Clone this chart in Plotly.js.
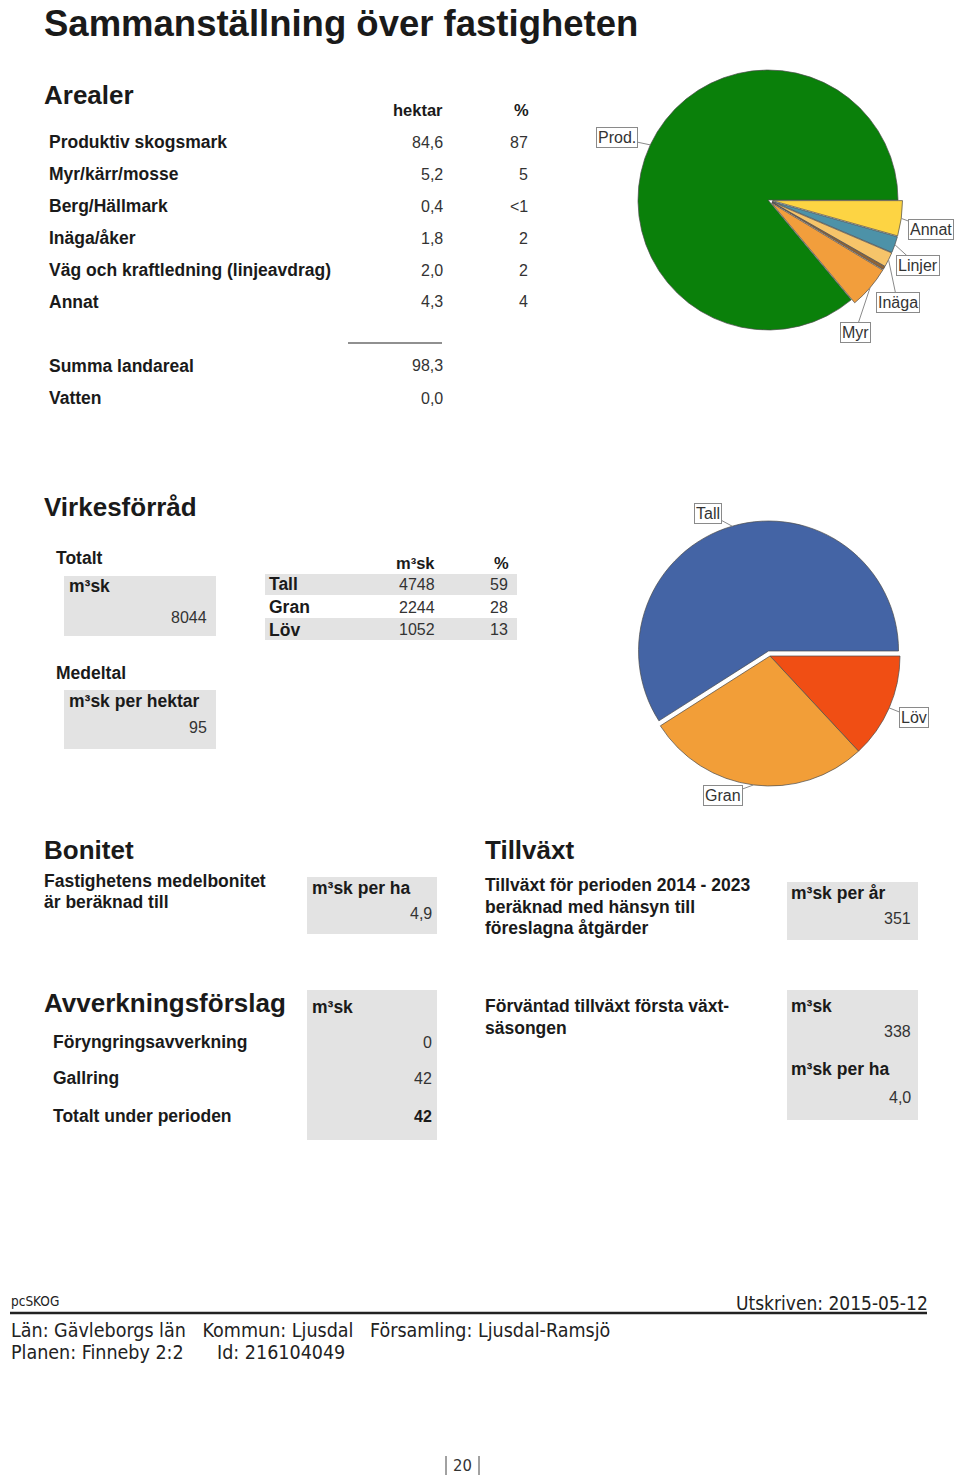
<!DOCTYPE html>
<html>
<head>
<meta charset="utf-8">
<script src="https://cdn.plot.ly/plotly-3.0.1.min.js"></script>
<style>
  html, body { margin: 0; padding: 0; background: #ffffff; }
  #page { width: 960px; height: 1478px; }
</style>
</head>
<body>
<div id="page"></div>
<script>
// ---------------- DATA ----------------
var arealCategories = ['Produktiv skogsmark', 'Myr/kärr/mosse', 'Berg/Hällmark', 'Inäga/åker', 'Väg och kraftledning (linjeavdrag)', 'Annat'];
var arealPieLabels  = ['Prod.', 'Myr', '', 'Inäga', 'Linjer', 'Annat'];
var arealHektar     = [84.6, 5.2, 0.4, 1.8, 2.0, 4.3];
var arealPercent    = ['87', '5', '<1', '2', '2', '4'];
var summaLandareal  = 98.3;
var vattenHektar    = 0.0;

var virkesCategories = ['Tall', 'Gran', 'Löv'];
var virkesM3sk       = [4748, 2244, 1052];
var virkesPercent    = [59, 28, 13];
var virkesTotalt     = 8044;
var virkesPerHektar  = 95;

var bonitetPerHa     = 4.9;
var tillvaxtPerAr    = 351;
var tillvaxtPeriod   = ['2014', '2023'];

var avverkCategories = ['Föryngringsavverkning', 'Gallring', 'Totalt under perioden'];
var avverkM3sk       = [0, 42, 42];

var forvantadM3sk    = 338;
var forvantadPerHa   = 4.0;

var footerProgram  = 'pcSKOG';
var footerDate     = '2015-05-12';
var footerLan      = 'Gävleborgs län';
var footerKommun   = 'Ljusdal';
var footerForsaml  = 'Ljusdal-Ramsjö';
var footerPlan     = 'Finneby 2:2';
var footerId       = '216104049';
var pageNumber     = '20';

// ---------------- HELPERS ----------------
var W = 960, H = 1478;
var FONT = 'Liberation Sans, Arial, Helvetica, sans-serif';
var NARROW = 'Liberation Sans Narrow, DejaVu Sans Condensed, Liberation Sans, sans-serif';
function px(x) { return x / W; }
function py(y) { return 1 - y / H; }
function dec(v) { return v.toFixed(1).replace('.', ','); }

var annotations = [];
var shapes = [];

function txt(x, y, text, size, opts) {
  opts = opts || {};
  var anchor = opts.anchor || 'left';
  var dx = anchor === 'left' ? -2 : (anchor === 'right' ? 2 : 0);
  annotations.push({
    xref: 'paper', yref: 'paper', x: px(x + dx), y: py(y),
    text: opts.bold ? '<b>' + text + '</b>' : text,
    showarrow: false,
    xanchor: anchor, yanchor: 'middle',
    borderpad: 0,
    font: { family: opts.family || FONT, size: size, color: opts.color || '#1a1a1a' }
  });
}
function box(x0, y0, x1, y1, color) {
  shapes.push({ type: 'rect', xref: 'paper', yref: 'paper', layer: 'below',
    x0: px(x0), x1: px(x1), y0: py(y1), y1: py(y0),
    fillcolor: color || '#e3e3e3', line: { width: 0 } });
}
function hline(x0, x1, y, w, color) {
  shapes.push({ type: 'line', xref: 'paper', yref: 'paper',
    x0: px(x0), x1: px(x1), y0: py(y), y1: py(y),
    line: { color: color || '#222', width: w } });
}
function vline(x, y0, y1, w, color) {
  shapes.push({ type: 'line', xref: 'paper', yref: 'paper',
    x0: px(x), x1: px(x), y0: py(y0), y1: py(y1),
    line: { color: color || '#444', width: w } });
}

// pie geometry (page pixels)
function pieDomain(cx, cy, r, maxPull) {
  var half = r * (1 + maxPull);
  return { x: [px(cx - half), px(cx + half)], y: [py(cy + half), py(cy - half)] };
}
// leader labels for a clockwise pie starting at 3 o'clock (rotation 90)
function pieLabels(vals, labels, pulls, cx, cy, r, offsets) {
  var total = vals.reduce(function (a, b) { return a + b; }, 0);
  var ang = 90;
  for (var i = 0; i < vals.length; i++) {
    var span = vals[i] / total * 360;
    var mid = (ang + span / 2) * Math.PI / 180;
    ang += span;
    if (!labels[i]) continue;
    var R = r * (1 + pulls[i]);
    var tx = cx + R * Math.sin(mid), ty = cy - R * Math.cos(mid);
    var off = offsets[labels[i]];
    annotations.push({
      xref: 'paper', yref: 'paper', x: px(tx), y: py(ty),
      ax: off[0], ay: off[1],
      text: labels[i], showarrow: true, arrowhead: 0, arrowwidth: 1,
      arrowcolor: '#8a8a8a', standoff: 0, startstandoff: 0,
      bgcolor: '#ffffff', bordercolor: '#8a8a8a', borderwidth: 1, borderpad: 1,
      font: { family: FONT, size: 16, color: '#333' }
    });
  }
}

// ---------------- PAGE TEXT ----------------
var BODY = 17.5;
txt(45, 23, 'Sammanställning över fastigheten', 36.5, { bold: true });

// Arealer
txt(45, 95, 'Arealer', 26, { bold: true });
txt(442, 110, 'hektar', 16.5, { bold: true, anchor: 'right' });
txt(528, 110, '%', 16.5, { bold: true, anchor: 'right' });
var arealRowY = [142, 174, 206, 238, 270, 302];
for (var i = 0; i < arealCategories.length; i++) {
  txt(50, arealRowY[i], arealCategories[i], BODY, { bold: true });
  txt(442, arealRowY[i], dec(arealHektar[i]), 16, { anchor: 'right', color: '#333' });
  txt(527, arealRowY[i], arealPercent[i], 16, { anchor: 'right', color: '#333' });
}
hline(348, 442, 343, 1.2, '#222');
txt(50, 366, 'Summa landareal', BODY, { bold: true });
txt(442, 366, dec(summaLandareal), 16, { anchor: 'right', color: '#333' });
txt(50, 398, 'Vatten', BODY, { bold: true });
txt(442, 398, dec(vattenHektar), 16, { anchor: 'right', color: '#333' });

// Virkesförråd
txt(45, 507, 'Virkesförråd', 26, { bold: true });
txt(57, 558, 'Totalt', BODY, { bold: true });
box(64, 576, 216, 636);
txt(70, 586, 'm³sk', BODY, { bold: true });
txt(206, 617, String(virkesTotalt), 16, { anchor: 'right', color: '#333' });
txt(57, 673, 'Medeltal', BODY, { bold: true });
box(64, 690, 216, 749);
txt(70, 701, 'm³sk per hektar', BODY, { bold: true });
txt(206, 727, String(virkesPerHektar), 16, { anchor: 'right', color: '#333' });

txt(434, 563, 'm³sk', 16.5, { bold: true, anchor: 'right' });
txt(508, 563, '%', 16.5, { bold: true, anchor: 'right' });
var virkesRowY = [584, 607, 630];
box(265, 574, 517, 595);
box(265, 618, 517, 640);
for (var j = 0; j < virkesCategories.length; j++) {
  txt(270, virkesRowY[j], virkesCategories[j], BODY, { bold: true });
  txt(434, virkesRowY[j], String(virkesM3sk[j]), 16, { anchor: 'right', color: '#333' });
  txt(507, virkesRowY[j], String(virkesPercent[j]), 16, { anchor: 'right', color: '#333' });
}

// Bonitet
txt(45, 850, 'Bonitet', 26, { bold: true });
txt(45, 881, 'Fastighetens medelbonitet', BODY, { bold: true });
txt(45, 902, 'är beräknad till', BODY, { bold: true });
box(307, 877, 437, 934);
txt(313, 888, 'm³sk per ha', BODY, { bold: true });
txt(431, 913, dec(bonitetPerHa), 16, { anchor: 'right', color: '#333' });

// Tillväxt
txt(486, 850, 'Tillväxt', 26, { bold: true });
txt(486, 885, 'Tillväxt för perioden ' + tillvaxtPeriod[0] + ' - ' + tillvaxtPeriod[1], BODY, { bold: true });
txt(486, 907, 'beräknad med hänsyn till', BODY, { bold: true });
txt(486, 928, 'föreslagna åtgärder', BODY, { bold: true });
box(787, 882, 918, 940);
txt(792, 893, 'm³sk per år', BODY, { bold: true });
txt(910, 918, String(tillvaxtPerAr), 16, { anchor: 'right', color: '#333' });

// Avverkningsförslag
txt(45, 1003, 'Avverkningsförslag', 26, { bold: true });
box(307, 990, 437, 1140);
txt(313, 1007, 'm³sk', BODY, { bold: true });
var avverkRowY = [1042, 1078, 1116];
for (var k = 0; k < avverkCategories.length; k++) {
  var last = (k === avverkCategories.length - 1);
  txt(54, avverkRowY[k], avverkCategories[k], BODY, { bold: true });
  txt(431, avverkRowY[k], String(avverkM3sk[k]), 16, { anchor: 'right', bold: last, color: last ? '#1a1a1a' : '#333' });
}

// Förväntad tillväxt
txt(486, 1006, 'Förväntad tillväxt första växt-', BODY, { bold: true });
txt(486, 1028, 'säsongen', BODY, { bold: true });
box(787, 990, 918, 1120);
txt(792, 1006, 'm³sk', BODY, { bold: true });
txt(910, 1031, String(forvantadM3sk), 16, { anchor: 'right', color: '#333' });
txt(792, 1069, 'm³sk per ha', BODY, { bold: true });
txt(910, 1097, dec(forvantadPerHa), 16, { anchor: 'right', color: '#333' });

// Footer
txt(12, 1301, footerProgram, 13.5, { family: NARROW, color: '#222' });
txt(927, 1303, 'Utskriven: ' + footerDate, 19, { family: NARROW, anchor: 'right', color: '#222' });
hline(10, 927, 1313, 2.5, '#222');
txt(12, 1330, 'Län: ' + footerLan + '&nbsp;&nbsp;&nbsp;Kommun: ' + footerKommun + '&nbsp;&nbsp;&nbsp;Församling: ' + footerForsaml, 19.5, { family: NARROW, color: '#222' });
txt(12, 1352, 'Planen: ' + footerPlan + '&nbsp;&nbsp;&nbsp;&nbsp;&nbsp;&nbsp;Id: ' + footerId, 19.5, { family: NARROW, color: '#222' });
txt(462, 1465, pageNumber, 16.5, { family: NARROW, anchor: 'center', color: '#333' });
vline(446, 1456, 1475, 1, '#444');
vline(479, 1456, 1475, 1, '#444');

// ---------------- PIES ----------------
// Areal pie: clockwise from 3 o'clock: Annat, Linjer, Inäga, Berg, Myr, Prod.
var arealPieVals   = arealHektar.slice().reverse();
var arealPieLbls   = arealPieLabels.slice().reverse();
var arealPieColors = ['#fdd443', '#4d92a8', '#f6c46a', '#8f6437', '#f29e3c', '#0a800a'];
var arealPulls     = [0.035, 0.035, 0.035, 0.035, 0.035, 0];
var p1 = { cx: 768, cy: 200, r: 130 };

// Virkes pie: clockwise from 3 o'clock: Löv, Gran, Tall
var virkesPieVals   = virkesM3sk.slice().reverse();
var virkesPieLbls   = virkesCategories.slice().reverse();
var virkesPieColors = ['#f04e14', '#f29e38', '#4464a5'];
var virkesPulls     = [0, 0, 0.04];
var p2 = { cx: 770, cy: 656, r: 130 };

pieLabels(arealPieVals, arealPieLbls, arealPulls, p1.cx, p1.cy, p1.r,
  { 'Prod.': [-33, -7], 'Annat': [30, 11], 'Linjer': [23, 21], 'Inäga': [9, 43], 'Myr': [-15, 45] });
pieLabels(virkesPieVals, virkesPieLbls, virkesPulls, p2.cx, p2.cy, p2.r,
  { 'Tall': [-24, -13], 'Gran': [-30, 11], 'Löv': [25, 10] });

var traces = [
  {
    type: 'pie', values: arealPieVals, labels: arealPieLbls.map(function (l) { return l || 'Berg'; }),
    sort: false, direction: 'clockwise', rotation: 90,
    pull: arealPulls, textinfo: 'none', hoverinfo: 'none',
    marker: { colors: arealPieColors, line: { color: '#4a4a4a', width: 0.7 } },
    domain: pieDomain(p1.cx, p1.cy, p1.r, 0.035)
  },
  {
    type: 'pie', values: virkesPieVals, labels: virkesPieLbls,
    sort: false, direction: 'clockwise', rotation: 90,
    pull: virkesPulls, textinfo: 'none', hoverinfo: 'none',
    marker: { colors: virkesPieColors, line: { color: '#4a4a4a', width: 0.7 } },
    domain: pieDomain(p2.cx, p2.cy, p2.r, 0.04)
  }
];

var layout = {
  width: W, height: H,
  margin: { l: 0, r: 0, t: 0, b: 0, pad: 0 },
  paper_bgcolor: '#ffffff', plot_bgcolor: '#ffffff',
  showlegend: false,
  font: { family: FONT, color: '#1a1a1a' },
  annotations: annotations,
  shapes: shapes
};

Plotly.newPlot('page', traces, layout, { staticPlot: true, displayModeBar: false });
</script>
</body>
</html>
